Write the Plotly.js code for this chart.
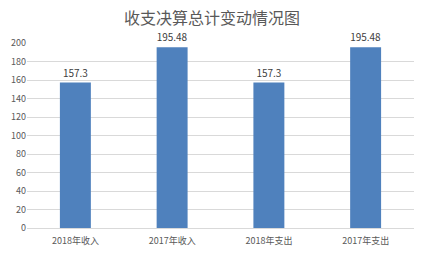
<!DOCTYPE html>
<html><head><meta charset="utf-8">
<script src="https://cdn.plot.ly/plotly-3.0.1.min.js"></script>
<style>html,body{margin:0;padding:0;background:#fff}#c{width:424px;height:257px}</style>
</head><body><div id="c"></div>
<script>
const categories = ["2018年收入", "2017年收入", "2018年支出", "2017年支出"];
const values = [157.3, 195.48, 157.3, 195.48];
const valueLabels = ["157.3", "195.48", "157.3", "195.48"];
const yTicks = [0, 20, 40, 60, 80, 100, 120, 140, 160, 180, 200];

const font = "'Noto Sans CJK SC', 'Microsoft YaHei', sans-serif";
Plotly.newPlot('c', [{
  type: 'bar', x: categories, y: values,
  text: valueLabels, textposition: 'outside', cliponaxis: false,
  textfont: {family: font, size: 10, color: '#404040'},
  marker: {color: '#4f81bd'}, width: 0.32, hoverinfo: 'none'
}], {
  width: 424, height: 257,
  margin: {l: 27, r: 10, t: 43, b: 29},
  paper_bgcolor: '#fff', plot_bgcolor: '#fff',
  title: {text: '收支决算总计变动情况图', x: 0.5, xanchor: 'center', y: 0.93, yanchor: 'middle',
    font: {family: font, size: 16, color: '#595959'}},
  xaxis: {showgrid: false, showline: true, linecolor: '#d9d9d9', linewidth: 1, ticks: 'outside', ticklen: 4, tickcolor: 'rgba(0,0,0,0)',
    tickfont: {family: font, size: 9, color: '#595959'}, fixedrange: true},
  yaxis: {range: [0, 200], tickvals: yTicks, showgrid: true, gridcolor: '#d9d9d9', zeroline: false,
    showline: false, ticks: '', tickfont: {family: font, size: 9, color: '#595959'}, fixedrange: true},
  showlegend: false
}, {staticPlot: true});
</script></body></html>
